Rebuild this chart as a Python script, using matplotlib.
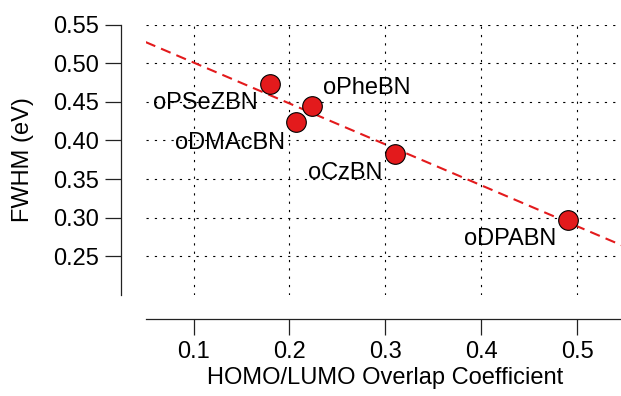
import numpy as np
import matplotlib.pyplot as plt

plt.rcParams['font.family'] = ['Liberation Sans', 'DejaVu Sans']

# data
names = ["oPSeZBN", "oPheBN", "oDMAcBN", "oCzBN", "oDPABN"]
overlap = [0.180, 0.224, 0.207, 0.310, 0.491]
fwhm = [0.473, 0.444, 0.424, 0.383, 0.297]

xticks = [0.1, 0.2, 0.3, 0.4, 0.5]
yticks = [0.25, 0.30, 0.35, 0.40, 0.45, 0.50, 0.55]

# label offsets from each point, in points
label_offsets = {
    "oPSeZBN": (-47, -14),
    "oPheBN": (39, 13),
    "oDMAcBN": (-48, -15),
    "oCzBN": (-36, -14),
    "oDPABN": (-42, -14),
}

red = '#e31a1c'
fs = 17

fig = plt.figure(figsize=(6.21, 3.96), dpi=100)
ax = fig.add_axes([0.2346, 0.2551, 0.7718, 0.683])

# linear fit
slope, icpt = np.polyfit(overlap, fwhm, 1)
xf = np.array([0.05, 0.55])
ax.plot(xf, slope * xf + icpt, color=red, lw=1.5, dashes=(5, 3), zorder=2)

ax.scatter(overlap, fwhm, s=200, color=red, edgecolor='black', linewidth=0.8, zorder=3)

for n, x, y in zip(names, overlap, fwhm):
    dx, dy = label_offsets[n]
    ax.annotate(n, (x, y), xytext=(dx, dy), textcoords='offset points',
                ha='center', va='center', fontsize=fs)

ax.set_xlim(0.05, 0.55)
ax.set_ylim(0.2, 0.55)
ax.set_xticks(xticks)
ax.set_yticks(yticks)
ax.set_xticklabels([f"{t:.1f}" for t in xticks])
ax.set_yticklabels([f"{t:.2f}" for t in yticks])

ax.grid(True, color='black', lw=0.8, dashes=(2, 5.5))

for s in ['top', 'right']:
    ax.spines[s].set_visible(False)
ax.spines['left'].set_position(('outward', 17.5))
ax.spines['bottom'].set_position(('outward', 17))
for s in ['left', 'bottom']:
    ax.spines[s].set_color('#222222')
    ax.spines[s].set_linewidth(0.9)

ax.tick_params(axis='both', direction='out', length=11.5, width=0.9,
               color='#222222', labelsize=fs, pad=4.5)

ax.set_xlabel("HOMO/LUMO Overlap Coefficient", fontsize=fs)
ax.set_ylabel("FWHM (eV)", fontsize=fs)
ax.xaxis.set_label_coords(0.5, -0.265)
ax.yaxis.set_label_coords(-0.233, 0.5)

fig.savefig("out.png", dpi=100)
